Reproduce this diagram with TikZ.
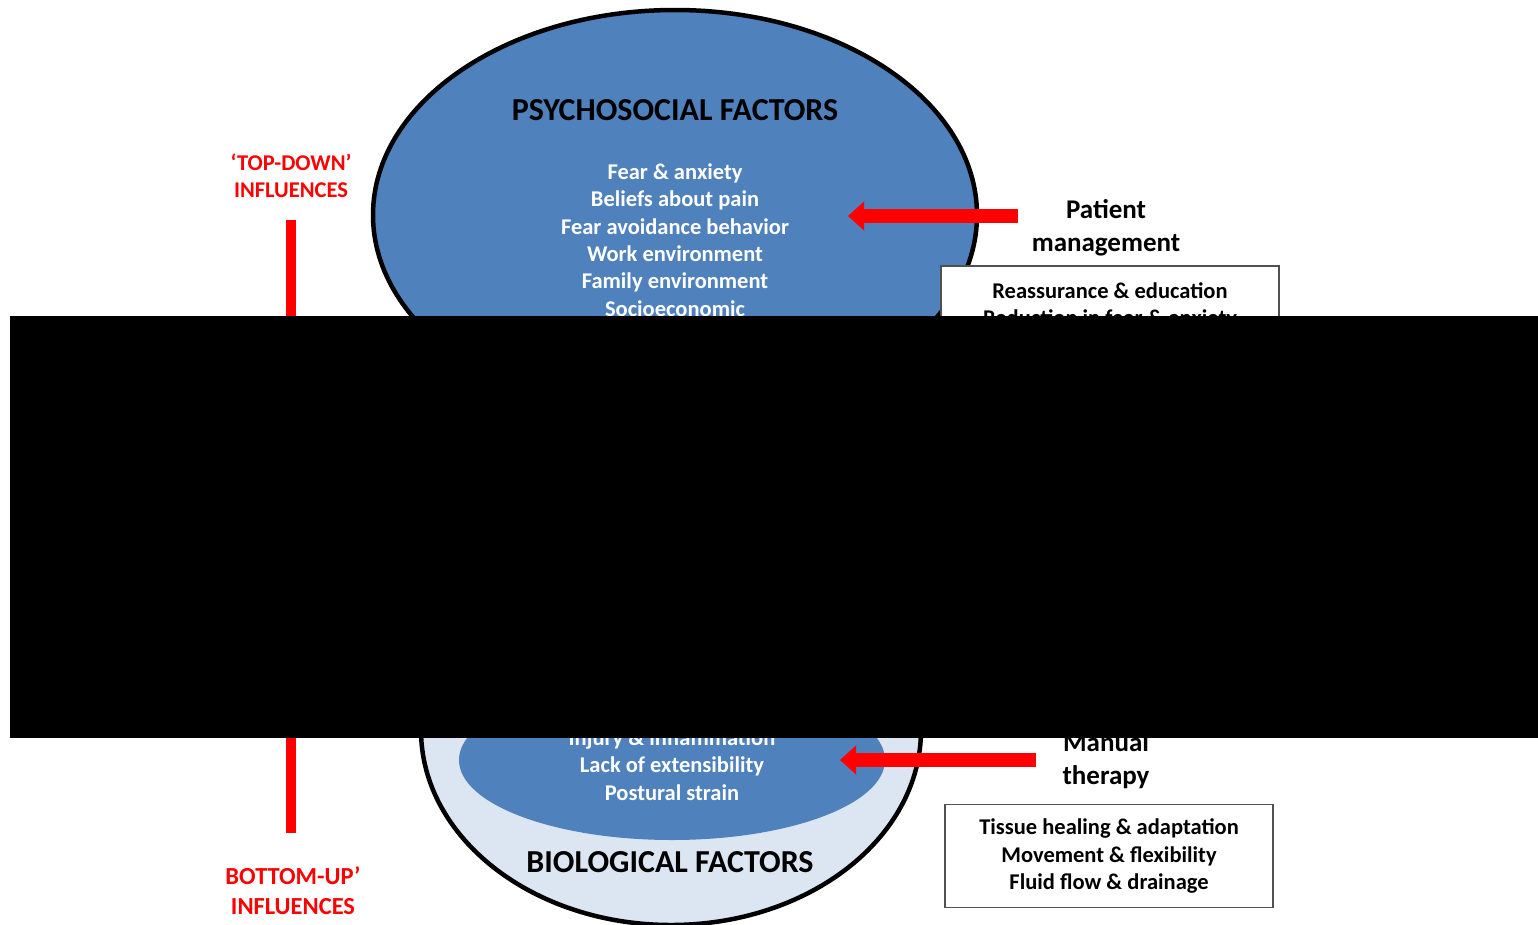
\documentclass[tikz,border=0pt]{standalone}
\usepackage{fontspec}
\setmainfont{Carlito}
\usetikzlibrary{arrows.meta}
\definecolor{psyblue}{RGB}{79,129,189}
\definecolor{lightblue}{RGB}{220,230,242}
\definecolor{boxgray}{RGB}{80,80,80}
\definecolor{redc}{RGB}{255,0,0}
\begin{document}
\begin{tikzpicture}[x=1pt,y=-1pt,
  whitetxt/.style={text=white,font=\fontsize{22.5}{27.4}\selectfont\bfseries,align=center,inner sep=0pt},
  titletxt/.style={text=black,font=\fontsize{32}{36}\selectfont\bfseries,align=center,inner sep=0pt},
  labeltxt/.style={text=black,font=\fontsize{27}{33}\selectfont\bfseries,align=center,inner sep=0pt},
  boxtxt/.style={text=black,font=\fontsize{22.5}{27.5}\selectfont\bfseries,align=center,inner sep=0pt},
  redtxtA/.style={text=redc,font=\fontsize{22.5}{27}\selectfont\bfseries,align=center,inner sep=0pt},
  redtxtB/.style={text=redc,font=\fontsize{24.5}{30}\selectfont\bfseries,align=center,inner sep=0pt},
  factor/.style={draw=black,line width=4.5pt},
  boxline/.style={draw=boxgray,line width=1.5pt,fill=white},
  redarrow/.style={draw=redc,line width=14pt,-{Triangle[length=16pt,width=28pt]}},
  redline/.style={draw=redc,line width=10pt},
]
\useasboundingbox[fill=white] (0,0) rectangle (1538,924);

% biological factors (lower)
\path[factor,fill=lightblue] (671,730) ellipse [x radius=250, y radius=195];
\fill[psyblue] (672,760) ellipse [x radius=213, y radius=80];

% psychosocial factors (upper)
\path[factor,fill=psyblue] (675,215) ellipse [x radius=302, y radius=205];

\node[titletxt] (psy) at (675,110) {PSYCHOSOCIAL FACTORS};
\node[whitetxt] (psylist) at (675,240) {Fear \& anxiety\\Beliefs about pain\\Fear avoidance behavior\\Work environment\\Family environment\\Socioeconomic};

\node[whitetxt] (biolist) at (672,765) {Injury \& inflammation\\Lack of extensibility\\Postural strain};
\node[titletxt] (bio) at (670,862) {BIOLOGICAL FACTORS};

% left influences
\node[redtxtA] (td) at (291,176) {‘TOP-DOWN’\\INFLUENCES};
\node[redtxtB] (bu) at (293,891) {BOTTOM-UP’\\INFLUENCES};
\coordinate (vtop) at (291,220);
\coordinate (vbot) at (291,833);
\draw[redline] (vtop) -- (vbot);

% patient management
\node[labeltxt] (pm) at (1106,228) {Patient\\management};
\path[boxline] (941,266) rectangle (1279,420);
\node[boxtxt] (pmtxt) at (1110,306) {Reassurance \& education\\Reduction in fear \& anxiety};
\coordinate (a1s) at (1018,216);
\coordinate (a1e) at (848,216);
\draw[redarrow] (a1s) -- (a1e);

% manual therapy
\node[labeltxt] (mt) at (1106,761) {Manual\\therapy};
\node[boxline,boxtxt,minimum width=328pt,minimum height=103pt] (mtbox) at (1109,856) {Tissue healing \& adaptation\\Movement \& flexibility\\Fluid flow \& drainage};
\coordinate (a2s) at (1036,760);
\coordinate (a2e) at (840,760);
\draw[redarrow] (a2s) -- (a2e);

% black cover band
\fill[black] (10,316) rectangle (1538,738);
\end{tikzpicture}
\end{document}
